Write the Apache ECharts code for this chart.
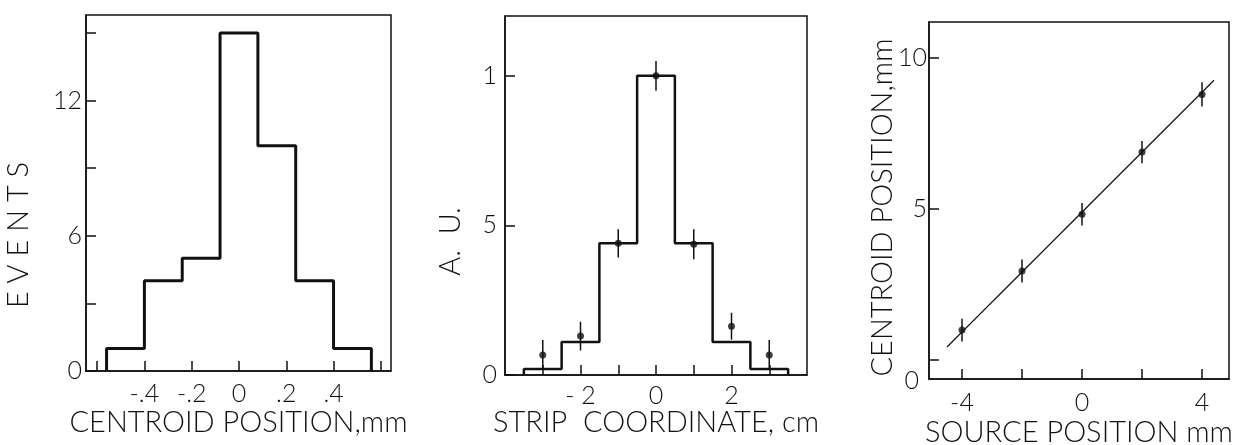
<!DOCTYPE html>
<html>
<head>
<meta charset="utf-8">
<style>
  html, body { margin: 0; padding: 0; background: #fff; }
  #main { width: 1236px; height: 445px; }
</style>
<script src="https://cdn.jsdelivr.net/npm/echarts@6/dist/echarts.min.js"></script>
</head>
<body>
<div id="main"></div>
<script>
// panel 1: centroid histogram
const histEdges = [-0.56, -0.40, -0.24, -0.08, 0.08, 0.24, 0.40, 0.56];
const histCounts = [1, 4, 5, 15, 10, 4, 1];
const histXTicks = [-0.6, -0.4, -0.2, 0, 0.2, 0.4, 0.6];
const histXLabels = [-0.4, -0.2, 0, 0.2, 0.4];
const histYTicks = [0, 3, 6, 9, 12, 15];
const histYLabels = [0, 6, 12];

// panel 2: strip coordinate
const stripEdges = [-3.5, -2.5, -1.5, -0.5, 0.5, 1.5, 2.5, 3.5];
const stripHist = [0.02, 0.11, 0.44, 1.0, 0.44, 0.11, 0.02];
const stripX = [-3, -2, -1, 0, 1, 2, 3];
const stripMeas = [0.067, 0.13, 0.44, 1.0, 0.437, 0.163, 0.067];
const stripErr = [0.05, 0.048, 0.047, 0.05, 0.05, 0.045, 0.05];
const stripXTicks = [-3, -2, -1, 0, 1, 2, 3];
const stripXLabels = [-2, 0, 2];
const stripYTicks = [0, 0.5, 1];

// panel 3: centroid vs source position
const sourcePos = [-4, -2, 0, 2, 4];
const centroidPos = [0.99, 2.95, 4.83, 6.89, 8.8];
const centroidErr = [0.38, 0.38, 0.37, 0.37, 0.4];
const fitX = [-4.5, 4.4];
const fitY = [0.43, 9.27];
const srcXTicks = [-4, -2, 0, 2, 4];
const srcXLabels = [-4, 0, 4];
const srcYTicks = [0, 5, 10];

const FONT = 'Lato';
const INK = '#111';

function stepPoints(edges, heights) {
  const pts = [[edges[0], 0]];
  heights.forEach((h, i) => {
    pts.push([edges[i], h], [edges[i + 1], h]);
  });
  pts.push([edges[edges.length - 1], 0]);
  return pts;
}

function errorBars(xs, ys, es) {
  return xs.map((x, i) => [x, ys[i], es[i]]);
}

function renderErr(params, api) {
  const x = api.value(0), y = api.value(1), e = api.value(2);
  const a = api.coord([x, y - e]);
  const b = api.coord([x, y + e]);
  return {
    type: 'line',
    shape: { x1: a[0], y1: a[1], x2: b[0], y2: b[1] },
    style: { stroke: INK, lineWidth: 1.5 }
  };
}

const labelStyle = { color: INK, fontFamily: FONT, fontWeight: 300, fontSize: 25 };
const nameStyle = { color: INK, fontFamily: FONT, fontWeight: 300, fontSize: 29 };

function xAxis(idx, min, max, ticks, labels, fmt, name, gap, margin) {
  return {
    type: 'value', gridIndex: idx, min: min, max: max,
    name: name, nameLocation: 'middle', nameGap: gap, nameMoveOverlap: false, nameTextStyle: nameStyle,
    splitLine: { show: false },
    axisLine: { show: true, onZero: false, lineStyle: { color: INK, width: 1.5 } },
    axisTick: { show: true, inside: true, length: 10, customValues: ticks, lineStyle: { color: INK, width: 1.5 } },
    axisLabel: Object.assign({ customValues: labels, margin: margin, formatter: fmt }, labelStyle)
  };
}

function yAxis(idx, min, max, ticks, labels, fmt, name, gap, margin, shift, rich) {
  const lab = Object.assign({ customValues: labels, margin: margin, formatter: fmt }, labelStyle);
  if (rich) lab.rich = rich;
  return {
    type: 'value', gridIndex: idx, min: min, max: max,
    name: name, nameLocation: 'middle', nameGap: gap, nameRotate: 90, nameMoveOverlap: false,
    nameTextStyle: Object.assign({ padding: [0, shift, 0, 0] }, nameStyle),
    splitLine: { show: false },
    axisLine: { show: true, onZero: false, lineStyle: { color: INK, width: 1.5 } },
    axisTick: { show: true, inside: true, length: 10, customValues: ticks, lineStyle: { color: INK, width: 1.5 } },
    axisLabel: lab
  };
}

function grid(left, top, width, height) {
  return {
    left: left, top: top, width: width, height: height,
    outerBoundsMode: 'none',
    show: true, borderColor: INK, borderWidth: 1.5, backgroundColor: 'transparent'
  };
}

const chart = echarts.init(document.getElementById('main'), null, { renderer: 'canvas' });

chart.setOption({
  animation: false,
  backgroundColor: '#fff',
  grid: [
    grid(86, 15, 305, 356),
    grid(505, 16, 302, 359),
    grid(929, 22, 300, 357)
  ],
  xAxis: [
    xAxis(0, -0.647, 0.643, histXTicks, histXLabels,
      v => v === 0 ? '0' : (v < 0 ? '-' : '') + String(Math.abs(v)).replace(/^0/, ''),
      'CENTROID POSITION,mm', 37, 10),
    xAxis(1, -4, 4, stripXTicks, stripXLabels, v => v < 0 ? '- ' + Math.abs(v) : String(v), 'STRIP  COORDINATE, cm', 33, 8),
    xAxis(2, -5.1, 4.9, srcXTicks, srcXLabels, v => String(v), 'SOURCE POSITION mm', 39, 11)
  ],
  yAxis: [
    yAxis(0, 0, 15.8, histYTicks, histYLabels, v => String(v), 'E V E N T S', 53, 4, 84),
    yAxis(1, 0, 1.2, stripYTicks, stripYTicks, v => v === 0.5 ? '5' : String(v), 'A.  U.', 40, 8, 92),
    yAxis(2, -0.63, 11.2, srcYTicks, srcYTicks, v => v === 0 ? '{lo|0}' : String(v),
      'CENTROID POSITION,mm', 32, 2, 14,
      { lo: { fontFamily: FONT, fontWeight: 300, fontSize: 25, color: INK, padding: [42, 8, 0, 0] } })
  ],
  series: [
    {
      type: 'line', xAxisIndex: 0, yAxisIndex: 0,
      data: stepPoints(histEdges, histCounts),
      symbol: 'none', lineStyle: { color: INK, width: 3 }
    },
    {
      type: 'line', xAxisIndex: 1, yAxisIndex: 1,
      data: stepPoints(stripEdges, stripHist),
      symbol: 'none', lineStyle: { color: INK, width: 2.5 }
    },
    {
      type: 'custom', xAxisIndex: 1, yAxisIndex: 1,
      data: errorBars(stripX, stripMeas, stripErr),
      encode: { x: 0, y: 1 },
      renderItem: renderErr
    },
    {
      type: 'scatter', xAxisIndex: 1, yAxisIndex: 1,
      data: stripX.map((x, i) => [x, stripMeas[i]]),
      symbolSize: 7, itemStyle: { color: INK }
    },
    {
      type: 'line', xAxisIndex: 2, yAxisIndex: 2,
      data: fitX.map((x, i) => [x, fitY[i]]),
      symbol: 'none', lineStyle: { color: INK, width: 1.2 }
    },
    {
      type: 'custom', xAxisIndex: 2, yAxisIndex: 2,
      data: errorBars(sourcePos, centroidPos, centroidErr),
      encode: { x: 0, y: 1 },
      renderItem: renderErr
    },
    {
      type: 'scatter', xAxisIndex: 2, yAxisIndex: 2,
      data: sourcePos.map((x, i) => [x, centroidPos[i]]),
      symbolSize: 7, itemStyle: { color: INK }
    }
  ]
});
</script>
</body>
</html>
